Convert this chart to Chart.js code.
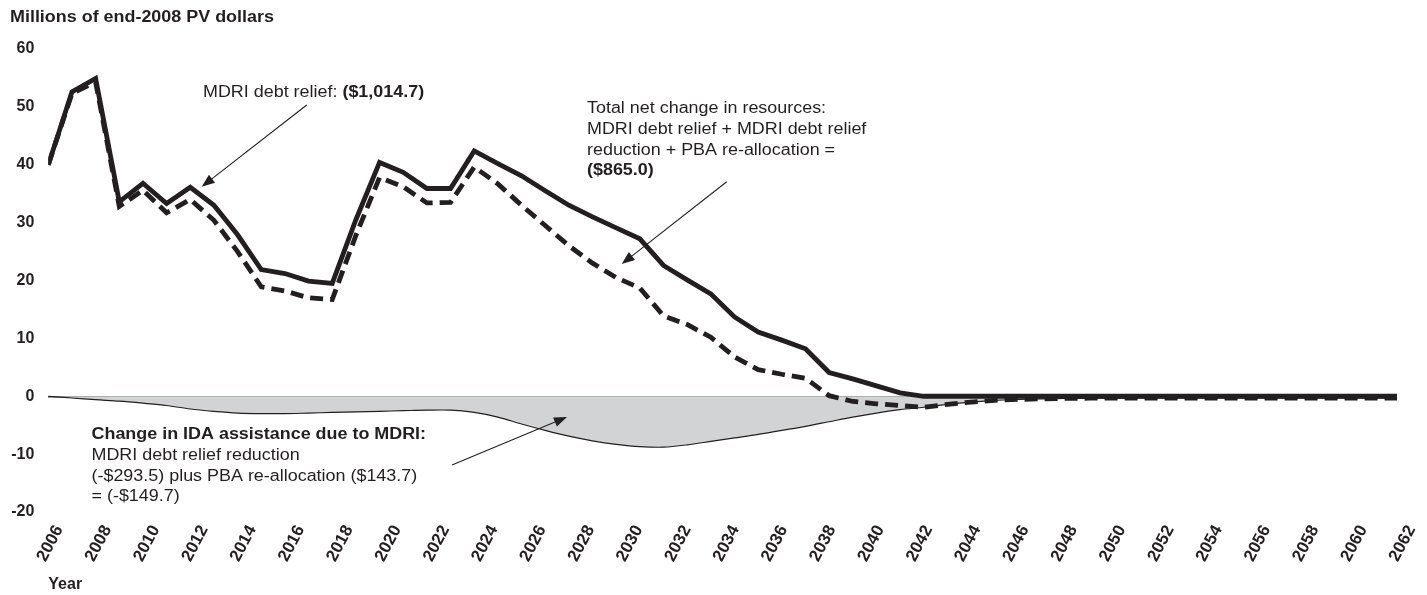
<!DOCTYPE html>
<html>
<head>
<meta charset="utf-8">
<script src="https://cdn.jsdelivr.net/npm/chart.js@4.4.1/dist/chart.umd.min.js"></script>
<style>
  html, body { margin: 0; padding: 0; background: #fff; }
</style>
</head>
<body>
<canvas id="chart" width="1427" height="595"></canvas>
<script>
// data years (one point per year)
const years = [
  2005, 2006, 2007, 2008, 2009, 2010, 2011, 2012, 2013, 2014,
  2015, 2016, 2017, 2018, 2019, 2020, 2021, 2022, 2023, 2024,
  2025, 2026, 2027, 2028, 2029, 2030, 2031, 2032, 2033, 2034,
  2035, 2036, 2037, 2038, 2039, 2040, 2041, 2042, 2043, 2044,
  2045, 2046, 2047, 2048, 2049, 2050, 2051, 2052, 2053, 2054,
  2055, 2056, 2057, 2058, 2059, 2060, 2061, 2062
];
const yearTicks = [
  2006, 2008, 2010, 2012, 2014, 2016, 2018, 2020, 2022, 2024,
  2026, 2028, 2030, 2032, 2034, 2036, 2038, 2040, 2042, 2044,
  2046, 2048, 2050, 2052, 2054, 2056, 2058, 2060, 2062
];

// MDRI debt relief (solid)
const mdriRelief = [
  40.0, 52.6, 54.9, 33.6, 36.8, 33.3, 36.1, 33.0, 27.9, 21.9,
  21.2, 19.9, 19.5, 30.5, 40.4, 38.7, 35.9, 35.9, 42.4, 40.2,
  38.1, 35.5, 33.0, 31.0, 29.1, 27.2, 22.6, 20.1, 17.7, 13.7,
  11.1, 9.7, 8.2, 4.1, 3.0, 1.8, 0.6, 0, 0, 0,
  0, 0, 0, 0, 0, 0, 0, 0, 0, 0,
  0, 0, 0, 0, 0, 0, 0, 0
];

// Total net change in resources (dashed)
const totalNetChange = [
  40.0, 52.3, 54.3, 32.8, 35.6, 31.7, 34.0, 30.4, 25.0, 18.9,
  18.2, 17.0, 16.7, 27.8, 37.8, 36.2, 33.4, 33.5, 39.6, 36.7,
  33.0, 29.5, 26.0, 23.0, 20.5, 18.7, 13.9, 12.4, 10.2, 6.8,
  4.6, 3.8, 3.1, 0.1, -0.9, -1.3, -1.6, -1.9, -1.4, -1.0,
  -0.7, -0.55, -0.45, -0.38, -0.34, -0.32, -0.3, -0.3, -0.3, -0.3,
  -0.3, -0.3, -0.3, -0.3, -0.3, -0.3, -0.3, -0.3
];

// Change in IDA assistance due to MDRI (grey area)
const idaChange = [
  0, -0.3, -0.6, -0.85, -1.2, -1.6, -2.2, -2.6, -2.9, -3.0,
  -3.0, -2.9, -2.8, -2.7, -2.6, -2.5, -2.4, -2.4, -2.8, -3.6,
  -4.8, -5.9, -6.9, -7.7, -8.3, -8.7, -8.8, -8.4, -7.8, -7.2,
  -6.6, -5.9, -5.2, -4.4, -3.6, -2.9, -2.3, -1.9, -1.4, -1.0,
  -0.7, -0.55, -0.45, -0.38, -0.34, -0.32, -0.3, -0.3, -0.3, -0.3,
  -0.3, -0.3, -0.3, -0.3, -0.3, -0.3, -0.3, -0.3
];

const INK = '#231f20';
const FAMILY = '"Liberation Sans", Arial, Helvetica, sans-serif';

const pts = vals => vals.map((v, i) => ({ x: years[i], y: v }));

// text runs, slightly widened like the original typesetting
function runs(c, parts, x, y) {
  c.save();
  c.translate(x, y);
  c.scale(1.12, 1);
  let cx = 0;
  for (const [t, bold] of parts) {
    c.font = (bold ? 'bold ' : '') + '16px ' + FAMILY;
    c.fillText(t, cx, 0);
    cx += c.measureText(t).width;
  }
  c.restore();
}

function arrow(c, x1, y1, x2, y2) {
  const a = Math.atan2(y2 - y1, x2 - x1);
  const L = 13, W = 5;
  c.beginPath();
  c.moveTo(x1, y1);
  c.lineTo(x2 - L * 0.8 * Math.cos(a), y2 - L * 0.8 * Math.sin(a));
  c.lineWidth = 1.1;
  c.stroke();
  c.beginPath();
  c.moveTo(x2, y2);
  c.lineTo(x2 - L * Math.cos(a) + W * Math.sin(a), y2 - L * Math.sin(a) - W * Math.cos(a));
  c.lineTo(x2 - L * Math.cos(a) - W * Math.sin(a), y2 - L * Math.sin(a) + W * Math.cos(a));
  c.closePath();
  c.fill();
}

const notes = {
  id: 'notes',
  afterDraw(chart) {
    const c = chart.ctx;
    c.save();
    c.fillStyle = INK;
    c.strokeStyle = INK;
    c.textBaseline = 'alphabetic';

    runs(c, [['Millions of end-2008 PV dollars', true]], 10, 22);

    runs(c, [['MDRI debt relief: ', false], ['($1,014.7)', true]], 203, 97);

    runs(c, [['Total net change in resources:', false]], 587, 113);
    runs(c, [['MDRI debt relief + MDRI debt relief', false]], 587, 134);
    runs(c, [['reduction + PBA re-allocation =', false]], 587, 154.5);
    runs(c, [['($865.0)', true]], 587, 175);

    runs(c, [['Change in IDA assistance due to MDRI:', true]], 91.5, 439);
    runs(c, [['MDRI debt relief reduction', false]], 91.5, 460);
    runs(c, [['(-$293.5) plus PBA re-allocation ($143.7)', false]], 91.5, 480.5);
    runs(c, [['= (-$149.7)', false]], 91.5, 501);

    arrow(c, 306.7, 105, 201.7, 186.7);
    arrow(c, 726.7, 181.7, 621.7, 264);
    arrow(c, 452, 465, 567, 417);
    c.restore();
  }
};

new Chart(document.getElementById('chart'), {
  type: 'line',
  data: {
    datasets: [
      {
        label: 'MDRI debt relief',
        data: pts(mdriRelief),
        borderColor: INK,
        borderWidth: 4.8,
        pointRadius: 0,
        fill: false,
        tension: 0
      },
      {
        label: 'Total net change in resources',
        data: pts(totalNetChange),
        borderColor: INK,
        borderWidth: 4.8,
        borderDash: [13, 7],
        pointRadius: 0,
        fill: false,
        tension: 0
      },
      {
        label: 'Change in IDA assistance due to MDRI',
        data: pts(idaChange),
        borderColor: INK,
        borderWidth: 1.2,
        backgroundColor: '#d1d3d4',
        pointRadius: 0,
        fill: 'origin',
        tension: 0.3
      }
    ]
  },
  options: {
    responsive: false,
    animation: false,
    layout: { padding: { top: 49, right: 30, bottom: 0, left: 0 } },
    plugins: {
      legend: { display: false },
      tooltip: { enabled: false }
    },
    scales: {
      x: {
        type: 'linear',
        display: false,
        min: 2005,
        max: 2062
      },
      year: {
        type: 'linear',
        position: 'bottom',
        min: 2005.55,
        max: 2061.4,
        afterBuildTicks: s => { s.ticks = yearTicks.map(v => ({ value: v })); },
        afterFit: s => {
          s.height = 83;
          s.paddingLeft = 0;
          s.paddingRight = 0;
        },
        grid: { display: false },
        border: { display: false },
        ticks: {
          autoSkip: false,
          minRotation: 62,
          maxRotation: 62,
          padding: 2,
          color: INK,
          font: { family: FAMILY, weight: 'bold', size: 17 },
          callback: v => String(v)
        },
        title: {
          display: true,
          text: 'Year',
          align: 'start',
          color: INK,
          font: { family: FAMILY, weight: 'bold', size: 16 },
          padding: { top: 0, bottom: 1 }
        }
      },
      y: {
        min: -20,
        max: 60,
        afterFit: s => { s.width = 48.3; },
        grid: {
          drawTicks: false,
          lineWidth: 1.5,
          color: ctx => ctx.tick && ctx.tick.value === 0 ? '#3d3d3d' : 'rgba(0,0,0,0)'
        },
        border: { display: false },
        ticks: {
          stepSize: 10,
          padding: 14,
          color: INK,
          font: { family: FAMILY, weight: 'bold', size: 16 }
        }
      }
    }
  },
  plugins: [notes]
});
</script>
</body>
</html>
